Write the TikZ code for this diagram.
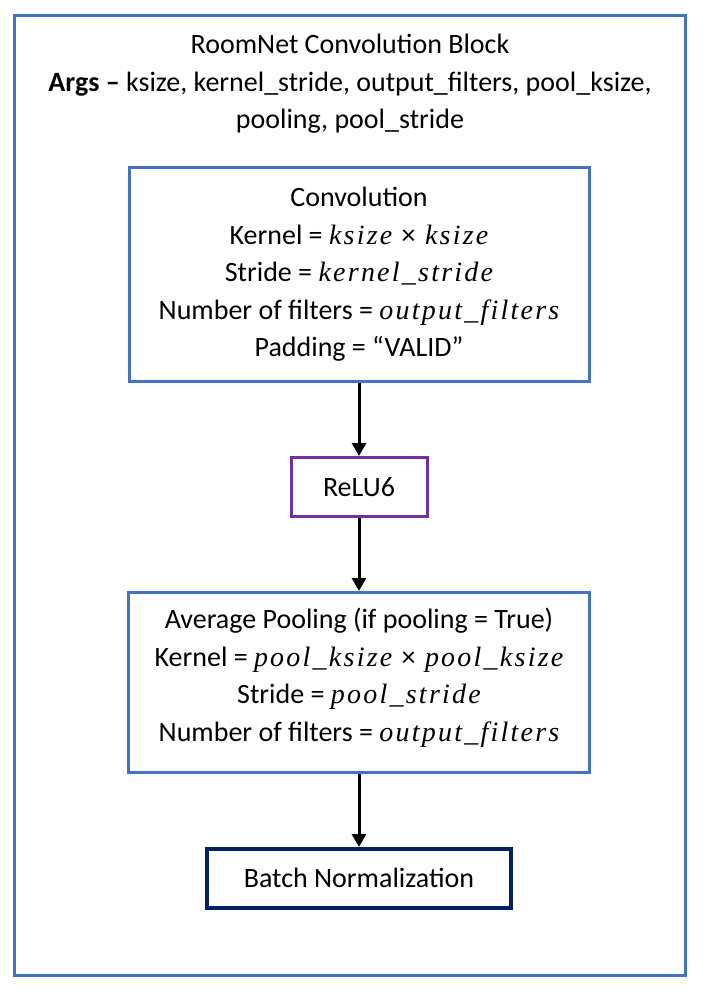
\documentclass[tikz,border=0pt]{standalone}
\usepackage{fontspec}
\setmainfont{Carlito}
\newfontfamily\varfont[LetterSpace=8]{Liberation Serif}
\newcommand{\mv}[1]{{\varfont\itshape #1}}
\usepackage{xcolor}
\usepackage{tikz}
\usetikzlibrary{arrows.meta,positioning}

\definecolor{blockblue}{HTML}{4472C4}
\definecolor{reluviolet}{HTML}{7030A0}
\definecolor{bnnavy}{HTML}{002060}

\begin{document}
\begin{tikzpicture}[
  x=1pt, y=-1pt,
  node distance=73pt,
  box/.style={rectangle, draw=blockblue, line width=3pt, align=center, font=\fontsize{28}{37.5}\selectfont},
  arrow/.style={-{Triangle[width=14pt,length=13pt]}, line width=3pt}
]
\useasboundingbox (0,0) rectangle (703,999);

% outer block frame
\node[box, minimum width=671pt, minimum height=960pt] (frame) at (350,495.5) {};
\node[align=center, font=\fontsize{28}{37.5}\selectfont] (title) at (350,84) {RoomNet Convolution Block\\\textbf{Args --} ksize, kernel\_stride, output\_filters, pool\_ksize,\\pooling, pool\_stride};

\node[box, minimum width=460pt, minimum height=214pt] (conv) at (359,274.5) {Convolution\\Kernel = \mv{ksize}\,\,×\,\,\mv{ksize}\\Stride = \mv{kernel\_stride}\\Number of filters = \mv{output\_filters}\\Padding = “VALID”};
\node[box, draw=reluviolet, minimum width=136pt, minimum height=59pt, below=of conv] (relu) {ReLU6};
\node[box, minimum width=461pt, minimum height=180pt, below=of relu] (pool) {Average Pooling (if pooling = True)\\Kernel = \mv{pool\_ksize}\,\,×\,\,\mv{pool\_ksize}\\Stride = \mv{pool\_stride}\\Number of filters = \mv{output\_filters}\\[-22pt]};
\node[box, draw=bnnavy, line width=3.5pt, minimum width=304pt, minimum height=59pt, below=of pool] (bn) {Batch Normalization};

\draw[arrow] (conv) -- (relu);
\draw[arrow] (relu) -- (pool);
\draw[arrow] (pool) -- (bn);

\end{tikzpicture}
\end{document}
